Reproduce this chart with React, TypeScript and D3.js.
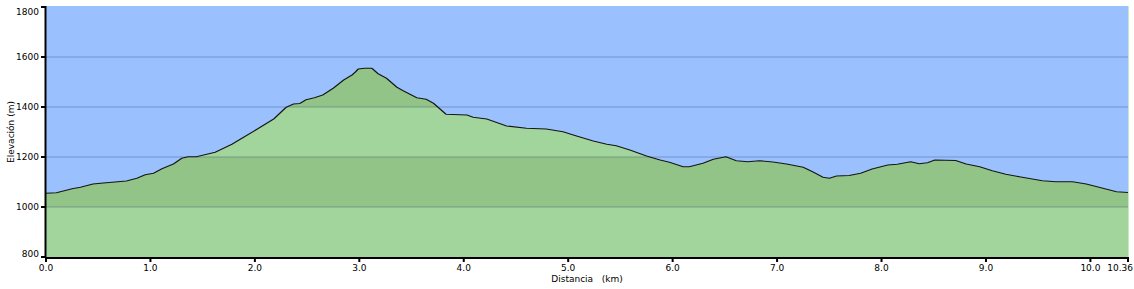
import React from "react";
import * as d3 from "d3";

const distanceKm = [
  0.0, 0.1, 0.25, 0.33, 0.45, 0.55, 0.77, 0.87, 0.95, 1.03, 1.11, 1.22, 1.3, 1.36, 1.44, 1.62, 1.78, 1.86,
  2.02, 2.18, 2.3, 2.37, 2.43, 2.49, 2.57, 2.65, 2.75, 2.85, 2.93, 2.96, 2.99, 3.05, 3.12, 3.18, 3.26, 3.36,
  3.42, 3.55, 3.64, 3.71, 3.83, 4.03, 4.09, 4.22, 4.41, 4.6, 4.79, 4.95, 5.08, 5.24, 5.37, 5.46, 5.59, 5.75,
  5.88, 5.97, 6.1, 6.16, 6.29, 6.39, 6.51, 6.61, 6.72, 6.83, 6.96, 7.09, 7.25, 7.34, 7.44, 7.5, 7.57, 7.69,
  7.8, 7.91, 8.06, 8.15, 8.28, 8.36, 8.44, 8.51, 8.71, 8.81, 8.94, 9.06, 9.19, 9.32, 9.54, 9.67, 9.83, 9.96,
  10.12, 10.25, 10.36,
];
const elevationM = [
  1055, 1057, 1073, 1079, 1092, 1096, 1104, 1115, 1129, 1135, 1153, 1172, 1195, 1201, 1201, 1219, 1251, 1271,
  1311, 1352, 1399, 1412, 1414, 1429, 1437, 1448, 1475, 1508, 1528, 1539, 1552, 1555, 1555, 1533, 1515, 1479,
  1465, 1437, 1431, 1415, 1371, 1368, 1359, 1352, 1324, 1315, 1312, 1301, 1284, 1264, 1251, 1245, 1228, 1204,
  1188, 1179, 1161, 1161, 1175, 1191, 1201, 1185, 1181, 1185, 1180, 1172, 1159, 1141, 1119, 1115, 1124, 1126,
  1135, 1152, 1168, 1171, 1181, 1173, 1177, 1188, 1186, 1172, 1161, 1145, 1131, 1121, 1105, 1101, 1101, 1092,
  1075, 1061, 1058,
];
const xTicks = [0, 1, 2, 3, 4, 5, 6, 7, 8, 9, 10];
const xEnd = 10.36;
const yTicks = [800, 1000, 1200, 1400, 1600, 1800];
const darkBands = [
  [1000, 1200],
  [1400, 1600],
];

const W = 1134;
const H = 289;
const L = 46;
const R = 1128;
const T = 7;
const B = 257;

export default function App() {
  const x = d3.scaleLinear().domain([0, xEnd]).range([L, R]);
  const y = d3.scaleLinear().domain([800, 1800]).range([B, T]);
  const pts = distanceKm.map((d, i) => [d, elevationM[i]] as [number, number]);
  const area = d3
    .area<[number, number]>()
    .x((d) => x(d[0]))
    .y0(y(800))
    .y1((d) => y(d[1]))(pts) as string;
  const line = d3
    .line<[number, number]>()
    .x((d) => x(d[0]))
    .y((d) => y(d[1]))(pts) as string;
  const font = "'DejaVu Sans', Verdana, sans-serif";
  const labelNudge = (t: number) => (t === 1800 ? 5 : t === 800 ? -3 : 0);
  return (
    <div style={{ position: "absolute", left: 0, top: 0 }}>
      <svg width={W} height={H} style={{ display: "block" }}>
        <rect x={0} y={0} width={W} height={H} fill="#ffffff" />
        <defs>
          <clipPath id="areaClip">
            <path d={area} />
          </clipPath>
        </defs>
        <rect x={L} y={T - 1} width={R - L} height={B - T + 1} fill="#9ac0fd" />
        <path d={area} fill="#a1d59b" />
        <g clipPath="url(#areaClip)">
          {darkBands.map(([a, b]) => (
            <rect key={a} x={L} y={y(b)} width={R - L} height={y(a) - y(b)} fill="#92c488" />
          ))}
        </g>
        {yTicks
          .filter((t) => t > 800 && t < 1800)
          .map((t) => (
            <line key={t} x1={L} x2={R} y1={y(t)} y2={y(t)} stroke="rgba(40,60,110,0.17)" strokeWidth={2} />
          ))}
        <path d={line} fill="none" stroke="#151515" strokeWidth={1.2} strokeLinejoin="round" />
        <line x1={R + 0.5} x2={R + 0.5} y1={T - 1} y2={B} stroke="#c8e8c0" strokeWidth={1} />
        {/* y axis */}
        <line x1={L - 0.5} x2={L - 0.5} y1={T - 1} y2={B + 1} stroke="#000" strokeWidth={2} />
        {yTicks.map((t) => (
          <g key={t}>
            <line x1={L - 5} x2={L} y1={y(t)} y2={y(t)} stroke="#000" strokeWidth={2} />
            <text
              x={L - 7}
              y={y(t) + labelNudge(t)}
              dy="0.35em"
              textAnchor="end"
              fontFamily={font}
              fontSize={9}
              fill="#000"
            >
              {t}
            </text>
          </g>
        ))}
        <text
          transform={`translate(14,${(T + B) / 2}) rotate(-90)`}
          textAnchor="middle"
          fontFamily={font}
          fontSize={9}
          fill="#000"
        >
          Elevación (m)
        </text>
        {/* x axis */}
        <line x1={L - 1} x2={R + 1} y1={B + 1} y2={B + 1} stroke="#000" strokeWidth={2} />
        {xTicks.map((t) => (
          <g key={t}>
            <line x1={x(t)} x2={x(t)} y1={B} y2={B + 5} stroke="#000" strokeWidth={2} />
            <text x={x(t)} y={B + 14} textAnchor="middle" fontFamily={font} fontSize={9} fill="#000">
              {t.toFixed(1)}
            </text>
          </g>
        ))}
        <line x1={x(xEnd)} x2={x(xEnd)} y1={B} y2={B + 5} stroke="#000" strokeWidth={2} />
        <text x={W - 1} y={B + 14} textAnchor="end" fontFamily={font} fontSize={9} fill="#000">
          {xEnd.toFixed(2)}
        </text>
        <text x={587} y={B + 25} textAnchor="middle" fontFamily={font} fontSize={9} fill="#000" xmlSpace="preserve">
          {"Distancia   (km)"}
        </text>
      </svg>
    </div>
  );
}
